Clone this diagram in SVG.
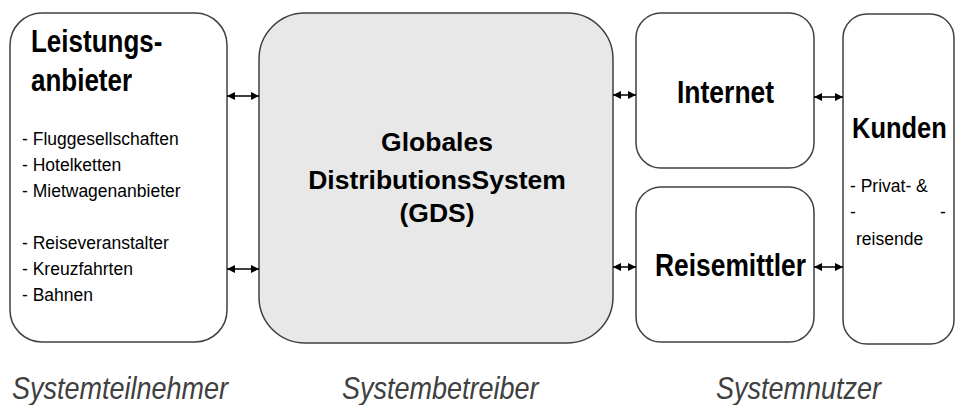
<svg xmlns="http://www.w3.org/2000/svg" width="956" height="405" viewBox="0 0 956 405">
  <style>
    .box { fill: #ffffff; stroke: #404040; stroke-width: 1.5; }
    .gds { fill: #e8e8e8; stroke: #404040; stroke-width: 1.5; }
    .title { font-family: "Liberation Sans", Arial, sans-serif; font-weight: bold; font-size: 26px; fill: #000; }
    .gdst { font-family: "Liberation Sans", Arial, sans-serif; font-weight: bold; font-size: 26.5px; fill: #000; text-anchor: middle; }
    .item { font-family: "Liberation Sans", Arial, sans-serif; font-size: 17.5px; fill: #000; }
    .cap { font-family: "Liberation Sans", Arial, sans-serif; font-style: italic; font-size: 27px; fill: #404040; }
    .conn { stroke: #000; stroke-width: 1.5; fill: none; marker-start: url(#head); marker-end: url(#head); }
  </style>
  <defs>
    <marker id="head" viewBox="0 0 8 8" refX="8" refY="4" markerWidth="8" markerHeight="8" markerUnits="userSpaceOnUse" orient="auto-start-reverse">
      <path d="M0,0 L8,4 L0,8 Z" fill="#000"/>
    </marker>
  </defs>

  <g id="leistungsanbieter">
    <rect class="box" x="10" y="13" width="217" height="329" rx="32" ry="32"/>
    <text class="title" transform="translate(31 52) scale(1 1.18)">Leistungs-</text>
    <text class="title" transform="translate(31 91) scale(1 1.18)">anbieter</text>
    <text class="item" x="22" y="145">- Fluggesellschaften</text>
    <text class="item" x="22" y="171">- Hotelketten</text>
    <text class="item" x="22" y="197">- Mietwagenanbieter</text>
    <text class="item" x="22" y="249">- Reiseveranstalter</text>
    <text class="item" x="22" y="275">- Kreuzfahrten</text>
    <text class="item" x="22" y="301">- Bahnen</text>
  </g>

  <g id="gds">
    <rect class="gds" x="259" y="13" width="354" height="330" rx="46" ry="46"/>
    <text class="gdst" x="437" y="151">Globales</text>
    <text class="gdst" x="437" y="189">DistributionsSystem</text>
    <text class="gdst" x="437" y="222">(GDS)</text>
  </g>

  <g id="internet">
    <rect class="box" x="636" y="13" width="178" height="155" rx="25" ry="25"/>
    <text class="title" style="font-size:26.5px" transform="translate(677 103) scale(1 1.18)">Internet</text>
  </g>

  <g id="reisemittler">
    <rect class="box" x="636" y="187" width="178" height="155" rx="25" ry="25"/>
    <text class="title" style="font-size:26.4px" transform="translate(655 276) scale(1 1.18)">Reisemittler</text>
  </g>

  <g id="kunden">
    <rect class="box" x="843" y="14" width="111" height="330" rx="24" ry="24"/>
    <text class="title" style="font-size:25.5px" transform="translate(852 138) scale(1 1.18)">Kunden</text>
    <text class="item" x="850" y="192">- Privat- &amp;</text>
    <text class="item" y="218"><tspan x="850">-</tspan><tspan x="940">-</tspan></text>
    <text class="item" x="856" y="245">reisende</text>
  </g>

  <g id="connectors">
    <line class="conn" x1="227" y1="96" x2="259" y2="96"/>
    <line class="conn" x1="227" y1="269" x2="259" y2="269"/>
    <line class="conn" x1="613" y1="95" x2="636" y2="95"/>
    <line class="conn" x1="613" y1="267" x2="636" y2="267"/>
    <line class="conn" x1="814" y1="97" x2="843" y2="97"/>
    <line class="conn" x1="814" y1="267" x2="843" y2="267"/>
  </g>

  <g id="captions">
    <text class="cap" transform="translate(12 399) scale(1 1.13)">Systemteilnehmer</text>
    <text class="cap" transform="translate(342 399) scale(1 1.13)">Systembetreiber</text>
    <text class="cap" transform="translate(716 399) scale(1 1.13)">Systemnutzer</text>
  </g>
</svg>
